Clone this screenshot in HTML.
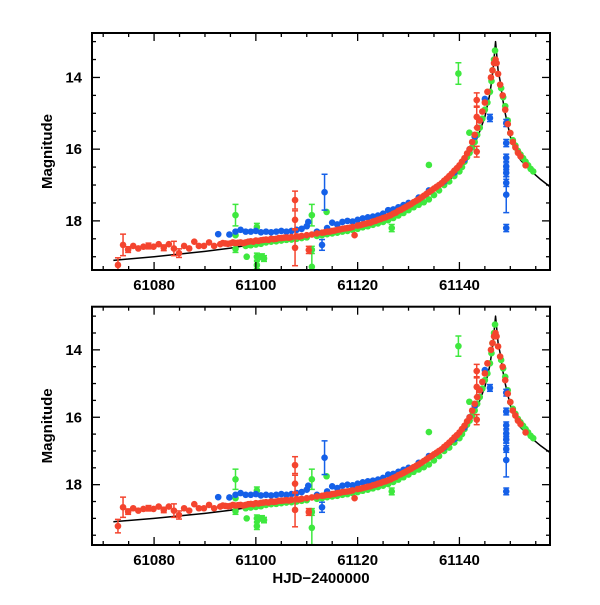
<!DOCTYPE html>
<html><head><meta charset="utf-8"><style>
body{margin:0;background:#fff;}
svg text{font-family:"Liberation Sans",sans-serif;font-weight:bold;fill:#000;}
</style></head><body>
<svg id="chart" width="600" height="600" xmlns="http://www.w3.org/2000/svg"></svg>
<script>
const modelT=[61072,61080,61090,61095,61100,61105,61110,61115,61120,61125,61128,61130,61133,61135,61137,61139,61140,61141.5,61143,61144,61145,61146,61146.6,61147.1,61147.6,61148,61148.5,61149,61150,61151,61152,61154,61156,61158];
const modelM=[19.1,19.0,18.85,18.76,18.64,18.53,18.42,18.3,18.15,17.95,17.78,17.62,17.35,17.15,16.95,16.75,16.62,16.3,15.85,15.5,15.1,14.45,13.8,13.0,13.8,14.1,14.6,15.0,15.65,16.0,16.3,16.6,16.85,17.07];

const redT=[61072.9,61073.9,61074.9,61075.9,61076.9,61077.9,61078.9,61079.9,61080.9,61081.9,61082.9,61083.9,61084.9,61085.9,61086.9,61087.9,61088.8,61089.8,61090.8,61091.8,
61093,61093.5,61094,61094.5,61095,61095.5,61096,61096.5,61097,61097.5,61098,61098.5,61099,61099.5,61100,61100.5,61101,61101.5,61102,61102.5,61103,61103.5,61104,61104.5,61105,61105.5,61106,61106.5,61107,61108,61108.5,61109,61110,61111,61112,61113,61113.5,61114,61114.5,61115,61115.5,61116,61116.5,61117,61117.5,61118,61118.5,61119,61120,61120.5,61121,61121.5,61122,61122.5,61123,61123.5,61124,61124.5,61125,61125.5,61126,61126.5,61127,61127.5,61128,61128.5,61129,61129.5,61130,61130.5,61131,61131.5,61132,61132.5,61133,61133.5,61134,61134.5,61135,61135.5,61136,61136.5,61137,61137.5,61138,61138.5,61139,61139.5,61140,61140.5,61141,61141.5,61142,61142.5,61143,61143.5,61144,61144.5,61145,61145.5,61146.2,61146.5,61146.8,61147.1,61147.3,61147.6,61148,61148.5,61149,61149.5,61150,61150.5,61151,61151.5,61152,61153,
61107.7,61107.7,61107.7,61110.4,61119.4,61143.4,61143.4,61143.4];
const redM=[19.23,18.67,18.8,18.7,18.77,18.72,18.7,18.72,18.65,18.75,18.65,18.77,18.9,18.7,18.77,18.58,18.7,18.7,18.6,18.7,
18.65,18.62,18.63,18.64,18.63,18.6,18.62,18.61,18.6,18.62,18.6,18.58,18.57,18.58,18.55,18.56,18.54,18.53,18.52,18.53,18.5,18.51,18.5,18.48,18.48,18.47,18.46,18.47,18.45,18.43,18.44,18.42,18.4,18.38,18.35,18.33,18.32,18.3,18.3,18.28,18.27,18.25,18.24,18.22,18.21,18.2,18.19,18.17,18.13,18.12,18.1,18.08,18.06,18.05,18.02,18.0,17.97,17.95,17.92,17.9,17.87,17.84,17.8,17.77,17.72,17.69,17.65,17.61,17.57,17.53,17.48,17.44,17.4,17.35,17.3,17.25,17.2,17.15,17.1,17.05,17.0,16.95,16.88,16.82,16.75,16.68,16.6,16.53,16.45,16.35,16.25,16.12,16.0,15.8,15.6,15.4,15.2,14.95,14.7,14.4,14.0,13.8,13.6,13.5,13.6,13.9,14.2,14.5,14.9,15.3,15.55,15.8,15.95,16.1,16.2,16.45,
17.42,17.97,18.75,18.81,18.4,14.63,15.1,16.07];
const redE=[0.2,0.3,0.08,0.05,0.05,0.05,0.08,0.06,0.05,0.08,0.06,0.2,0.12,0.06,0.06,0.05,0.06,0.06,0.05,0.06];
while(redE.length<redT.length-8)redE.push(0.05);
redE.push(0.25,0.25,0.5,0.1,0.05,0.2,0.3,0.15);

const greenT=[61096,61096,61096,61098.2,61100.2,61100.2,61100.2,61101.2,61101.6,61111,61111,61111,61113.9,61126.7,61134,61139.8,61141.95,
61098,61099,61100,61101,61102,61103,61104,61105,61106,61107,61108,61109,61110,61112,61113,61114,61115,61116,61117,61118,61119,61120,61121,61122,61123,61124,61125,61126,61127,61128,61129,61130,61131,61132,61133,61134,61135,61136,61137,61138,61139,61140,61140.5,61141,61141.5,61142,61142.5,61143,61143.5,61144,61144.5,61145,61145.5,61146,61146.3,61146.5,61146.8,61147,61148.2,61148.6,61149,61149.5,61150,61150.5,61151,61151.5,61152,61152.5,61153,61153.5,61154,61154.5];
const greenM=[17.84,18.4,18.78,19.0,18.17,19.0,19.23,19.0,19.05,17.84,18.81,19.28,17.75,18.2,16.44,13.89,15.54,
18.7,18.68,18.66,18.64,18.6,18.58,18.57,18.55,18.53,18.52,18.5,18.48,18.46,18.42,18.4,18.37,18.35,18.33,18.3,18.28,18.25,18.22,18.18,18.15,18.11,18.07,18.03,17.98,17.92,17.85,17.78,17.7,17.62,17.55,17.48,17.4,17.28,17.15,17.0,16.9,16.75,16.62,16.5,16.35,16.22,16.1,15.95,15.8,15.6,15.4,15.15,14.9,14.7,14.4,14.1,13.8,13.5,13.25,14.3,14.55,14.8,15.2,15.55,15.75,15.9,16.05,16.15,16.25,16.35,16.45,16.55,16.62];
const greenE=[0.3,0.05,0.1,0.06,0.1,0.1,0.1,0.08,0.08,0.3,0.1,0.5,0.02,0.1,0.05,0.3,0.02];
while(greenE.length<greenT.length)greenE.push(0.05);

const blueT=[61092.6,61094.8,61096,61097,61098,61099,61100,61101,61102,61103,61104,61105,61106,61107,61108,61109,61110,61110.3,61112,61113,61113.5,61114,61115,61116,61117,61118,61119,61120,61121,61122,61123,61124,61125,61126,61127,61128,61129,61130,61132,61134,61137,61139,61141,61142,61143,61144,61145,61146,
61149.2,61149.2,61149.2,61149.2,61149.2,61149.2,61149.2,61149.2];
const blueM=[18.37,18.38,18.3,18.25,18.3,18.3,18.28,18.32,18.3,18.32,18.3,18.28,18.3,18.28,18.25,18.22,18.15,18.03,18.3,18.67,17.2,18.2,18.05,18.1,18.03,18.0,18.02,17.97,17.93,17.9,17.88,17.85,17.8,17.7,17.68,17.62,17.56,17.5,17.35,17.15,16.9,16.65,16.3,16.0,15.65,15.2,14.6,15.13,
15.27,15.83,16.24,16.48,16.66,16.94,17.27,18.2];
const blueE=[0.06,0.06,0.06,0.06,0.06,0.06,0.06,0.06,0.06,0.06,0.06,0.06,0.06,0.06,0.06,0.06,0.06,0.06,0.06,0.15,0.5,0.06,0.06,0.05,0.05,0.05,0.05,0.05,0.05,0.05,0.05,0.05,0.05,0.05,0.05,0.05,0.05,0.05,0.05,0.05,0.05,0.05,0.05,0.05,0.05,0.05,0.05,0.1,
0.1,0.1,0.1,0.1,0.1,0.1,0.5,0.1];

const xTicks=[61080,61100,61120,61140];
const yTicks=[14,16,18];

const NS='http://www.w3.org/2000/svg';
const svg=document.getElementById('chart');
function mk(tag,attrs,parent){const e=document.createElementNS(NS,tag);for(const k in attrs)e.setAttribute(k,attrs[k]);(parent||svg).appendChild(e);return e;}

const panels=[{name:'top',y0:33,y1:270,m0:12.76,m1:19.37,xlab:false},{name:'bottom',y0:306.7,y1:545,m0:12.72,m1:19.79,xlab:true}];
const X0=92,X1=550,T0=61067.8,T1=61157.8;
panels.forEach(p=>{
  const g=mk('g',{});
  
  
  const sx=t=>X0+(t-T0)/(T1-T0)*(X1-X0);
  const sy=m=>p.y0+(m-p.m0)/(p.m1-p.m0)*(p.y1-p.y0);
  const clip='clip-'+p.name;
  const cp=mk('clipPath',{id:clip},g);mk('rect',{x:X0,y:p.y0,width:X1-X0,height:p.y1-p.y0},cp);
  const dg=mk('g',{'clip-path':'url(#'+clip+')'},g);
  const pts=modelT.map((t,i)=>sx(t)+','+sy(modelM[i])).join(' ');
  const ml=mk('polyline',{points:pts,fill:'none',stroke:'#000','stroke-width':1.5,'stroke-linejoin':'round'},dg);
  
  
  function series(T,M,E,col,nm){
    const sg=mk('g',{},dg);
    
    
    for(let i=0;i<T.length;i++){
      const x=sx(T[i]),y=sy(M[i]),ya=sy(M[i]-E[i]),yb=sy(M[i]+E[i]);
      if(yb-ya>5){
        mk('line',{x1:x,x2:x,y1:ya,y2:yb,stroke:col,'stroke-width':1.5},sg);
        mk('line',{x1:x-3,x2:x+3,y1:ya,y2:ya,stroke:col,'stroke-width':1.5},sg);
        mk('line',{x1:x-3,x2:x+3,y1:yb,y2:yb,stroke:col,'stroke-width':1.5},sg);
      }
      const c=mk('circle',{cx:x,cy:y,r:3.3,fill:col},sg);
      
      
    }
  }
  series(greenT,greenM,greenE,'#3ee83e','green');
  series(blueT,blueM,blueE,'#1560e8','blue');
  series(redT,redM,redE,'#f4442e','red');
  for(let t=61070;t<=61155;t+=5){const x=sx(t),L=(t%20===0)?8:4;
    mk('line',{x1:x,x2:x,y1:p.y1,y2:p.y1-L,stroke:'#000','stroke-width':1.3},g);
    mk('line',{x1:x,x2:x,y1:p.y0,y2:p.y0+L,stroke:'#000','stroke-width':1.3},g);}
  for(let m=13;m<=19.5;m+=0.5){if(m<p.m0||m>p.m1)continue;const y=sy(m),L=(m%2===0)?8:4;
    mk('line',{x1:X0,x2:X0+L,y1:y,y2:y,stroke:'#000','stroke-width':1.3},g);
    mk('line',{x1:X1,x2:X1-L,y1:y,y2:y,stroke:'#000','stroke-width':1.3},g);}
  const fr=mk('rect',{x:X0,y:p.y0,width:X1-X0,height:p.y1-p.y0,fill:'none',stroke:'#000','stroke-width':2},g);
  
  
  xTicks.forEach(t=>{const tx=mk('text',{x:sx(t),y:p.y1+20,'text-anchor':'middle','font-size':15},g);tx.textContent=t;
    
    });
  yTicks.forEach(m=>{const tx=mk('text',{x:X0-10,y:sy(m)+5,'text-anchor':'end','font-size':15},g);tx.textContent=m;
    
    });
  const yl=mk('text',{x:0,y:0,'text-anchor':'middle','font-size':15,transform:'translate(52,'+((p.y0+p.y1)/2)+') rotate(-90)'},g);
  yl.textContent='Magnitude';
  
  
  if(p.xlab){const xl=mk('text',{x:(X0+X1)/2,y:583,'text-anchor':'middle','font-size':15},g);xl.textContent='HJD\u22122400000';
    
    }
});
</script>
</body></html>
